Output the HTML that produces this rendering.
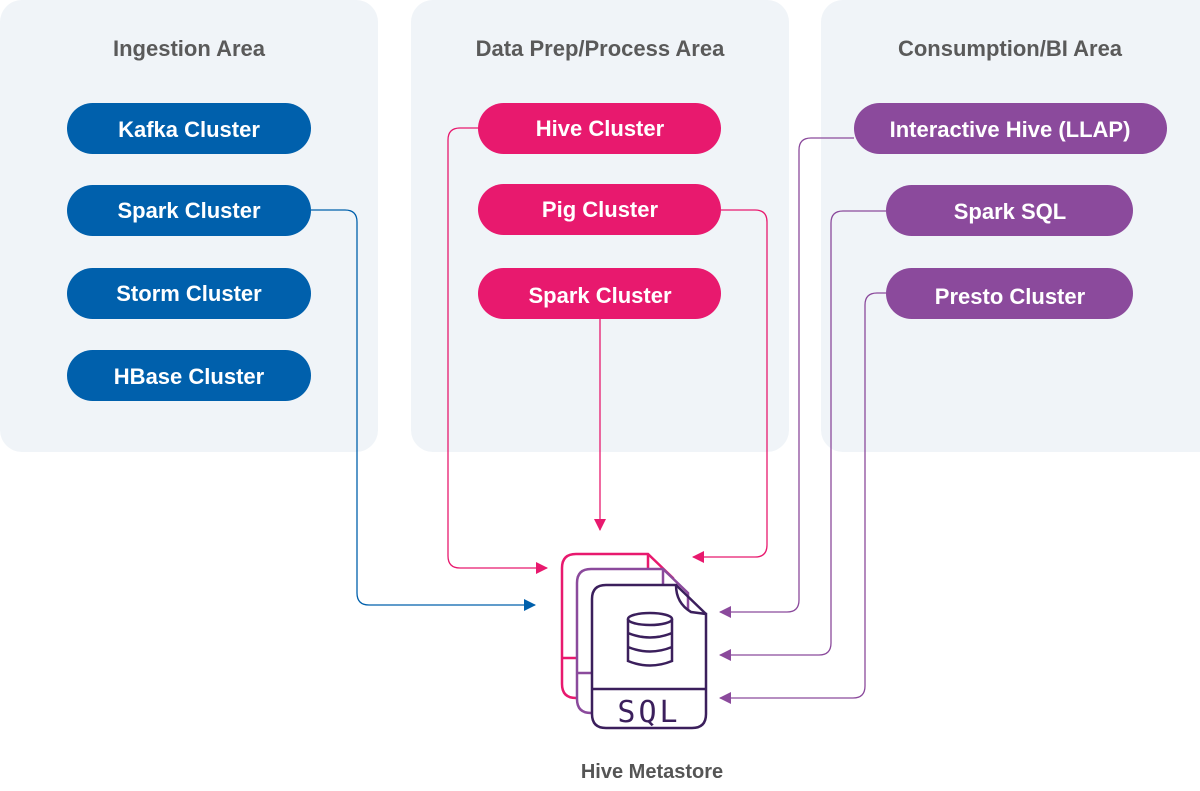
<!DOCTYPE html>
<html><head><meta charset="utf-8"><style>
html,body{margin:0;padding:0;background:#fff;}
svg text{font-family:"Liberation Sans",sans-serif;font-weight:bold;}
</style></head><body>
<svg width="1200" height="786" viewBox="0 0 1200 786" xmlns="http://www.w3.org/2000/svg">
<defs>
<marker id="ab" markerWidth="12" markerHeight="12" refX="11" refY="6" orient="auto" markerUnits="userSpaceOnUse"><path d="M0,0 L12,6 L0,12 z" fill="#0060ac"/></marker>
<marker id="ap" markerWidth="12" markerHeight="12" refX="11" refY="6" orient="auto" markerUnits="userSpaceOnUse"><path d="M0,0 L12,6 L0,12 z" fill="#e8196e"/></marker>
<marker id="au" markerWidth="12" markerHeight="12" refX="11" refY="6" orient="auto" markerUnits="userSpaceOnUse"><path d="M0,0 L12,6 L0,12 z" fill="#8b4a9c"/></marker>
</defs>
<rect x="0" y="0" width="378" height="452" rx="22" fill="#f0f4f8"/>
<rect x="411" y="0" width="378" height="452" rx="22" fill="#f0f4f8"/>
<rect x="821" y="0" width="400" height="452" rx="22" fill="#f0f4f8"/>
<g font-size="22" fill="#5a5a5a" text-anchor="middle">
<text x="189" y="56">Ingestion Area</text>
<text x="600" y="56">Data Prep/Process Area</text>
<text x="1010" y="56">Consumption/BI Area</text>
</g>
<g fill="#0060ac">
<rect x="67" y="103" width="244" height="51" rx="25.5"/>
<rect x="67" y="185" width="244" height="51" rx="25.5"/>
<rect x="67" y="268" width="244" height="51" rx="25.5"/>
<rect x="67" y="350" width="244" height="51" rx="25.5"/>
</g>
<g fill="#e8196e">
<rect x="478" y="103" width="243" height="51" rx="25.5"/>
<rect x="478" y="184" width="243" height="51" rx="25.5"/>
<rect x="478" y="268" width="243" height="51" rx="25.5"/>
</g>
<g fill="#8b4a9c">
<rect x="854" y="103" width="313" height="51" rx="25.5"/>
<rect x="886" y="185" width="247" height="51" rx="25.5"/>
<rect x="886" y="268" width="247" height="51" rx="25.5"/>
</g>
<g font-size="22" fill="#fff" text-anchor="middle">
<text x="189" y="137">Kafka Cluster</text>
<text x="189" y="218">Spark Cluster</text>
<text x="189" y="301">Storm Cluster</text>
<text x="189" y="384">HBase Cluster</text>
<text x="600" y="136">Hive Cluster</text>
<text x="600" y="217">Pig Cluster</text>
<text x="600" y="303">Spark Cluster</text>
<text x="1010" y="137">Interactive Hive (LLAP)</text>
<text x="1010" y="219">Spark SQL</text>
<text x="1010" y="304">Presto Cluster</text>
</g>
<g fill="none" stroke-width="1.3">
<path d="M311,210 H345 Q357,210 357,222 V593 Q357,605 369,605 H535" stroke="#0060ac" marker-end="url(#ab)"/>
<path d="M478,128 H460 Q448,128 448,140 V556 Q448,568 460,568 H547" stroke="#e8196e" marker-end="url(#ap)"/>
<path d="M600,319 V530" stroke="#e8196e" marker-end="url(#ap)"/>
<path d="M721,210 H755 Q767,210 767,222 V545 Q767,557 755,557 H693" stroke="#e8196e" marker-end="url(#ap)"/>
<path d="M854,138 H811 Q799,138 799,150 V600 Q799,612 787,612 H720" stroke="#8b4a9c" marker-end="url(#au)"/>
<path d="M886,211 H843 Q831,211 831,223 V643 Q831,655 819,655 H720" stroke="#8b4a9c" marker-end="url(#au)"/>
<path d="M886,293 H877 Q865,293 865,305 V686 Q865,698 853,698 H720" stroke="#8b4a9c" marker-end="url(#au)"/>
</g>
<g fill="#fff" stroke-width="2.5">
<path d="M562,568 Q562,554 576,554 H648 L673,578 V698 H576 Q562,698 562,684 Z" stroke="#e8196e"/>
<path d="M562,658 H577 M648,554 V572" stroke="#e8196e" fill="none"/>
<path d="M577,583 Q577,569 591,569 H663 L688,593 V713 H591 Q577,713 577,699 Z" stroke="#8b4a9c"/>
<path d="M577,673 H592 M663,569 V587" stroke="#8b4a9c" fill="none"/>
<path d="M592,599 Q592,585 606,585 H676 Q676,603 691,612 L706,614 V714 Q706,728 692,728 H606 Q592,728 592,714 Z" stroke="#3b1f5c"/>
<path d="M676,585 L706,614" stroke="#3b1f5c"/>
<path d="M592,689 H706" stroke="#3b1f5c"/>
<ellipse cx="650" cy="619" rx="22" ry="6" stroke="#3b1f5c"/>
<path d="M628,619 V661 Q650,670 672,661 V619 M628,633 Q650,642 672,633 M628,647 Q650,656 672,647" stroke="#3b1f5c" fill="none"/>
</g>
<text x="649" y="722" font-size="30" fill="#3b1f5c" text-anchor="middle" style="font-family:'DejaVu Sans Mono','Liberation Mono',monospace;font-weight:normal" letter-spacing="3">SQL</text>
<text x="652" y="778" font-size="20" fill="#555" text-anchor="middle">Hive Metastore</text>
</svg>
</body></html>
